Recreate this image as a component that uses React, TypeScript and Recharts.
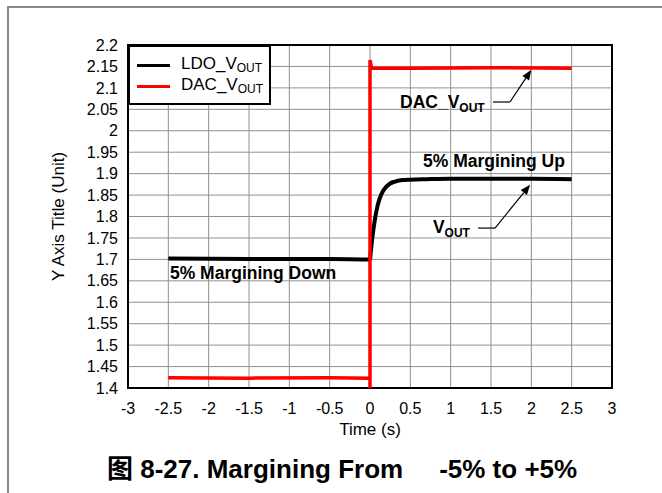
import {
  Label,
  Line,
  LineChart,
  CartesianGrid,
  ReferenceArea,
  ReferenceDot,
  ReferenceLine,
  XAxis,
  YAxis,
} from "recharts";

const FONT = "'Liberation Sans', Arial, sans-serif";

// LDO_VOUT trace (time in s, volts)
const ldoT = [-2.5, -1.5, -0.5, 0, 0.01, 0.03, 0.06, 0.09, 0.12, 0.16, 0.2, 0.25, 0.3, 0.4, 0.5, 0.7, 1.0, 1.5, 2.0, 2.5];
const ldoV = [1.702, 1.701, 1.701, 1.7, 1.718, 1.752, 1.792, 1.822, 1.842, 1.859, 1.869, 1.877, 1.881, 1.885, 1.886, 1.887, 1.888, 1.888, 1.888, 1.887];

// DAC_VOUT trace
const dacT = [-2.5, -1.5, -0.5, 0, 0, 0, 0.02, 0.5, 1.5, 2.5];
const dacV = [1.424, 1.423, 1.424, 1.423, 1.4, 2.165, 2.146, 2.146, 2.147, 2.146];

const xTicks = [-3, -2.5, -2, -1.5, -1, -0.5, 0, 0.5, 1, 1.5, 2, 2.5, 3];
const yTicks = [1.4, 1.45, 1.5, 1.55, 1.6, 1.65, 1.7, 1.75, 1.8, 1.85, 1.9, 1.95, 2.0, 2.05, 2.1, 2.15, 2.2];

const ldoData = ldoT.map((t, i) => ({ t, v: ldoV[i] }));
const dacData = dacT.map((t, i) => ({ t, v: dacV[i] }));

const fmt = (v: number) => String(Number(v.toFixed(2)));

function Arrow(props: any) {
  const { x1, y1, x2, y2 } = props;
  const dx = x2 - x1;
  const dy = y2 - y1;
  const len = Math.sqrt(dx * dx + dy * dy) || 1;
  const ux = dx / len;
  const uy = dy / len;
  const bx = x2 - ux * 10;
  const by = y2 - uy * 10;
  const pts = `${x2},${y2} ${bx - uy * 4},${by + ux * 4} ${bx + uy * 4},${by - ux * 4}`;
  return (
    <g>
      <line x1={x1} y1={y1} x2={bx} y2={by} stroke="#000" strokeWidth={1.2} />
      <polygon points={pts} fill="#000" />
    </g>
  );
}

function Note({ cx, cy, main, sub }: any) {
  return (
    <text x={cx} y={cy} fontFamily={FONT} fontWeight="bold" fontSize={17.5} fill="#000">
      {main}
      {sub ? (
        <tspan fontSize={12} dy={4}>
          {sub}
        </tspan>
      ) : null}
    </text>
  );
}

function XTitle(props: any) {
  const vb = props.viewBox;
  return (
    <text x={vb.x + vb.width / 2} y={vb.y + 47} textAnchor="middle" fontFamily={FONT} fontSize={17} fill="#000">
      Time (s)
    </text>
  );
}

function YTitle(props: any) {
  const vb = props.viewBox;
  const cx = vb.x + 58;
  const cy = vb.y + vb.height / 2;
  return (
    <text
      x={cx}
      y={cy}
      transform={`rotate(-90 ${cx} ${cy})`}
      textAnchor="middle"
      dominantBaseline="central"
      fontFamily={FONT}
      fontSize={17}
      fill="#000"
    >
      Y Axis Title (Unit)
    </text>
  );
}

function LegendRow({ top, color, name }: { top: number; color: string; name: string }) {
  return (
    <>
      <div style={{ position: "absolute", left: 7, top: top - 1.5, width: 33, height: 3, background: color }} />
      <div style={{ position: "absolute", left: 51, top: top - 11, fontSize: 17, lineHeight: "20px", whiteSpace: "nowrap" }}>
        {name}_V<span style={{ fontSize: 12, verticalAlign: -3 }}>OUT</span>
      </div>
    </>
  );
}

export default function App() {
  return (
    <div style={{ position: "absolute", left: 0, top: 0, width: 662, height: 493, background: "#fff", fontFamily: FONT }}>
      <div style={{ position: "absolute", left: 7, top: 6, right: 0, bottom: 0, borderTop: "2px solid #8a8a8a", borderLeft: "2px solid #8a8a8a" }} />
      <LineChart width={662} height={493} margin={{ top: 45, right: 50, left: 0, bottom: 58 }} style={{ position: "absolute", left: 0, top: 0 }}>
        <CartesianGrid stroke="#909090" strokeWidth={1} />
        <XAxis
          dataKey="t"
          type="number"
          domain={[-3, 3]}
          ticks={xTicks}
          tickFormatter={fmt}
          allowDuplicatedCategory={false}
          height={47}
          tickLine={false}
          axisLine={false}
          tickSize={6}
          tickMargin={9}
          tick={{ fontSize: 16, fill: "#000", fontFamily: FONT }}
        >
          <Label content={XTitle} />
        </XAxis>
        <YAxis
          type="number"
          domain={[1.4, 2.2]}
          ticks={yTicks}
          tickFormatter={fmt}
          width={128}
          tickLine={false}
          axisLine={false}
          tickSize={6}
          tickMargin={4}
          interval={0}
          tick={{ fontSize: 16, fill: "#000", fontFamily: FONT }}
        >
          <Label content={YTitle} />
        </YAxis>
        <Line data={ldoData} dataKey="v" type="monotone" stroke="#000" strokeWidth={4} dot={false} isAnimationActive={false} />
        <Line data={dacData} dataKey="v" type="linear" stroke="#ff0000" strokeWidth={3.5} dot={false} isAnimationActive={false} />
        <ReferenceArea x1={-3} x2={3} y1={1.4} y2={2.2} fill="none" stroke="#000" strokeWidth={2} />
        <ReferenceLine segment={[{ x: 1.525, y: 2.067 }, { x: 1.735, y: 2.067 }]} stroke="#000" strokeWidth={1.2} />
        <ReferenceLine segment={[{ x: 1.735, y: 2.067 }, { x: 2.0, y: 2.142 }]} shape={Arrow} />
        <ReferenceLine segment={[{ x: 1.34, y: 1.773 }, { x: 1.55, y: 1.773 }]} stroke="#000" strokeWidth={1.2} />
        <ReferenceLine segment={[{ x: 1.55, y: 1.773 }, { x: 1.985, y: 1.874 }]} shape={Arrow} />
        <ReferenceDot x={0.372} y={2.053} r={0} shape={(p: any) => <Note cx={p.cx} cy={p.cy} main="DAC_V" sub="OUT" />} />
        <ReferenceDot x={0.78} y={1.762} r={0} shape={(p: any) => <Note cx={p.cx} cy={p.cy} main="V" sub="OUT" />} />
        <ReferenceDot x={0.657} y={1.915} r={0} shape={(p: any) => <Note cx={p.cx} cy={p.cy} main="5% Margining Up" />} />
        <ReferenceDot x={-2.48} y={1.654} r={0} shape={(p: any) => <Note cx={p.cx} cy={p.cy} main="5% Margining Down" />} />
      </LineChart>
      <div
        style={{
          position: "absolute",
          left: 128,
          top: 45,
          width: 143,
          height: 60,
          boxSizing: "border-box",
          border: "2px solid #000",
          background: "#fff",
        }}
      >
        <LegendRow top={18} color="#000" name="LDO" />
        <LegendRow top={39} color="#ff0000" name="DAC" />
      </div>
      <div
        style={{
          position: "absolute",
          left: 107,
          top: 456,
          fontSize: 26,
          lineHeight: "26px",
          fontWeight: "bold",
          fontFamily: "'Liberation Sans', Arial, 'Noto Sans CJK SC', sans-serif",
          whiteSpace: "nowrap",
        }}
      >
        图 8-27. Margining From
        <span style={{ display: "inline-block", width: 36 }} />
        -5% to +5%
      </div>
    </div>
  );
}
